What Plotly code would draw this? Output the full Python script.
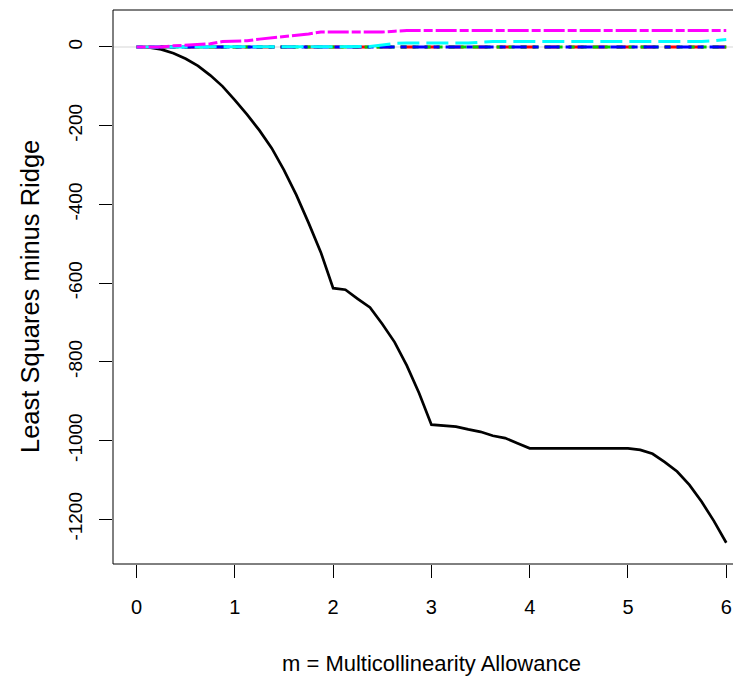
import plotly.graph_objects as go

m = [0, 0.125, 0.25, 0.375, 0.5, 0.625, 0.75, 0.875, 1.0, 1.125, 1.25, 1.375, 1.5, 1.625, 1.75, 1.875,
     2.0, 2.125, 2.25, 2.375, 2.5, 2.625, 2.75, 2.875, 3.0, 3.125, 3.25, 3.375, 3.5, 3.625, 3.75, 3.875,
     4.0, 4.125, 4.25, 4.375, 4.5, 4.625, 4.75, 4.875, 5.0, 5.125, 5.25, 5.375, 5.5, 5.625, 5.75, 5.875, 6.0]

s_black = [0, -1, -6, -16, -30, -48, -72, -100, -135, -172, -212, -257, -313, -376, -447, -522,
           -613, -617, -640, -662, -704, -750, -810, -880, -960, -963, -965, -972, -978, -988, -994, -1007,
           -1020, -1020, -1020, -1020, -1020, -1020, -1020, -1020, -1020, -1024, -1034, -1055, -1079, -1113, -1156, -1205, -1260]
s_red = [0, 0, 0, 0, 0, 0, 0, 0, 0, 0, 0, 0, 0, 0, 0, 0,
         0, 0, 0, 0, 0, 0, 0, 0, 0, 0, 0, 0, 0, 0, 0, 0,
         0, 0, 0, 0, 0, 0, 0, 0, 0, 0, 0, 0, 0, 0, 0, 0, 0]
s_green = [0, 0, 0, 0, 0, 0, 0, 0, 0, 0, 0, 0, 0, 0, 0, 0,
           0, 0, 0, 0, 0, 0, 0, 0, 0, 0, 0, 0, 0, 0, 0, 0,
           0, 0, 0, 0, 0, 0, 0, 0, 0, 0, 0, 0, 0, 0, 0, 0, 0]
s_blue = [0, 0, 0, 0, 0, 0, 0, 0, 0, 0, 0, 0, 0, 0, 0, 0,
          0, 0, 0, 0, 0, 0, 0, 0, 0, 0, 0, 0, 0, 0, 0, 0,
          0, 0, 0, 0, 0, 0, 0, 0, 0, 0, 0, 0, 0, 0, 0, 0, 0]
s_cyan = [0, 0, 0, 0, 0, 0, 0, 0, 0, 0, 0, 0, 0, 0, 0, 0,
          0, 0, 0, 1, 5, 9, 10, 10, 10, 10, 10, 10, 12, 14, 14, 14,
          14, 14, 14, 14, 14, 14, 14, 14, 14, 14, 14, 14, 14, 14, 14, 16, 19]
s_magenta = [0, 0, 0, 3, 5, 6, 8, 14, 15, 16, 20, 23, 26, 30, 33, 38,
             38, 38, 38, 38, 38, 40, 42, 42, 42, 42, 42, 42, 42, 42, 42, 42,
             42, 42, 42, 42, 42, 42, 42, 42, 42, 42, 42, 42, 42, 42, 42, 42, 42]

x_ticks = [0, 1, 2, 3, 4, 5, 6]
y_ticks = [0, -200, -400, -600, -800, -1000, -1200]

series = [
    (s_black, "black", "solid", 2.7),
    (s_red, "#ff0000", "15px,9px", 3),
    (s_green, "#00cd00", "6px,6px", 3),
    (s_blue, "#0000ff", "6px,6px,15px,6px", 3),
    (s_cyan, "#00ffff", "22px,7px", 3),
    (s_magenta, "#ff00ff", "9px,3px,21px,3px", 3),
]

fig = go.Figure()
for ys, col, dash, w in series:
    fig.add_trace(go.Scatter(x=m, y=ys, mode="lines",
                             line=dict(color=col, width=w, dash=dash),
                             showlegend=False, hoverinfo="skip"))

# The page body adds an 8px offset, so the figure is 8px smaller in each direction.
PLOT_L, PLOT_T, PLOT_W, PLOT_H = 105, 2, 628, 554

FONT = "Liberation Sans, Arial, sans-serif"
fig.update_layout(
    width=733, height=669,
    margin=dict(l=PLOT_L, r=0, t=PLOT_T, b=669 - PLOT_T - PLOT_H),
    paper_bgcolor="white", plot_bgcolor="white",
    font=dict(family=FONT, color="black", size=20),
    xaxis=dict(range=[-0.24, 6.15], tickvals=x_ticks, ticktext=[str(v) for v in x_ticks],
               ticks="outside", ticklen=13, tickwidth=1, tickcolor="black",
               showgrid=False, zeroline=False, showline=False,
               tickfont=dict(size=20), ticklabelstandoff=12),
    yaxis=dict(range=[-1314, 94], tickvals=y_ticks, ticktext=[str(v) for v in y_ticks],
               ticks="outside", ticklen=13, tickwidth=1, tickcolor="black",
               showgrid=False, zeroline=False, showline=False, tickangle=-90,
               tickfont=dict(size=19), ticklabelstandoff=9),
    shapes=[
        dict(type="line", xref="paper", yref="y", x0=0, x1=1, y0=0, y1=0,
             line=dict(color="#e3e3e3", width=1.5), layer="below"),
        dict(type="rect", xref="paper", yref="paper", x0=0, x1=1.05, y0=0, y1=1,
             line=dict(color="black", width=1)),
    ],
    annotations=[
        dict(text="m = Multicollinearity Allowance", xref="paper", yref="paper",
             x=(431 - 113) / PLOT_W, y=0, yshift=-(663 - 564), showarrow=False,
             xanchor="center", yanchor="middle", font=dict(size=22)),
        dict(text="Least Squares minus Ridge", xref="paper", yref="paper",
             x=0, xshift=-(113 - 30), y=(564 - 297) / PLOT_H, showarrow=False,
             textangle=-90, xanchor="center", yanchor="middle", font=dict(size=25.5)),
    ],
)

fig.write_html("out.html")
